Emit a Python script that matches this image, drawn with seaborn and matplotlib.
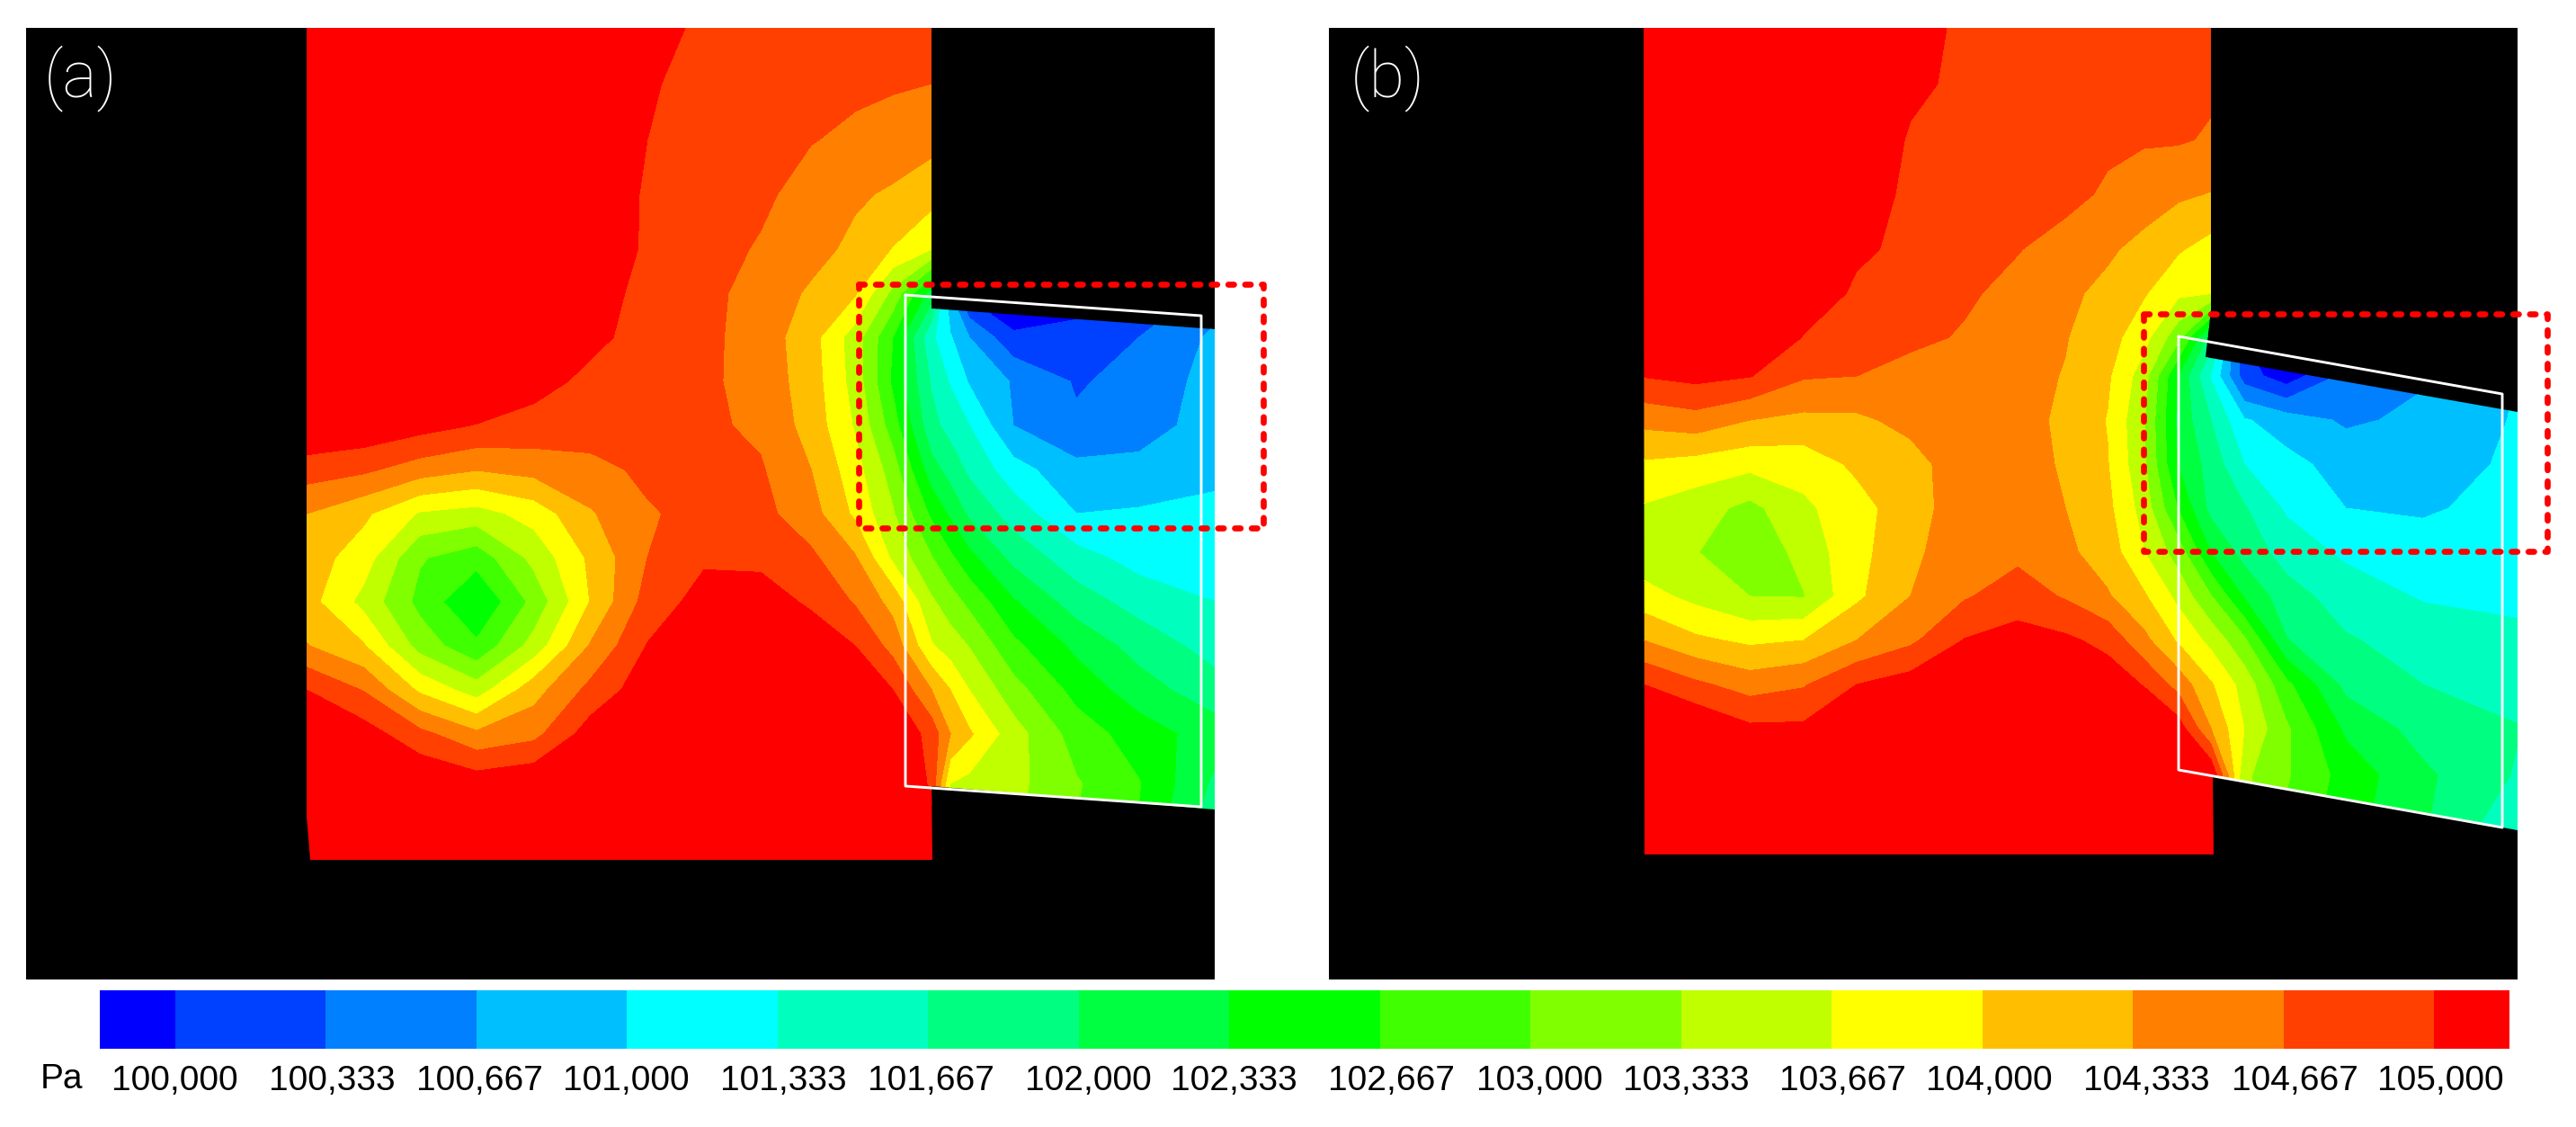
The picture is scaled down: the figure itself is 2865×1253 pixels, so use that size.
import numpy as np
import matplotlib
matplotlib.use("Agg")
import matplotlib.pyplot as plt
from matplotlib.colors import ListedColormap
from matplotlib.patches import Polygon
import seaborn as sns

W, H = 2865, 1253

tick_labels = ["100,000", "100,333", "100,667", "101,000", "101,333", "101,667",
               "102,000", "102,333", "102,667", "103,000", "103,333", "103,667",
               "104,000", "104,333", "104,667", "105,000"]
levels_pa = [100000, 100333, 100667, 101000, 101333, 101667, 102000, 102333,
             102667, 103000, 103333, 103667, 104000, 104333, 104667, 105000]
band_colors = ["#0000ff", "#0040ff", "#0080ff", "#00bfff", "#00ffff", "#00ffbf",
               "#00ff80", "#00ff40", "#00ff00", "#40ff00", "#80ff00", "#bfff00",
               "#ffff00", "#ffbf00", "#ff8000", "#ff4000", "#ff0000"]

# pressure, in steps of 1/3 kPa above 100 kPa
x_a = [341, 404, 467, 530, 594, 657, 720, 783, 846, 902, 951, 993, 1036, 1057, 1078, 1127, 1197, 1267, 1351]
y_a = [31, 93, 155, 216, 277, 326, 375, 424, 473, 522, 571, 620, 669, 718, 767, 816, 871, 956]
steps_a = [
    [16.5, 16.5, 16.5, 16.5, 16.4, 16, 15.4, 14.8, 14.6, 14.6, 14.5, 14.5, 14.4, 14.4, 14.4, 14.4, 14.4, 14.4, 14.4],
    [16.5, 16.5, 16.5, 16.5, 16.3, 15.9, 15.1, 14.7, 14.5, 14.4, 14.2, 14.1, 14, 14, 14, 14, 14, 14, 14],
    [16.5, 16.5, 16.5, 16.5, 16.2, 15.7, 15, 14.6, 14.3, 14.05, 13.8, 13.6, 13.3, 13.3, 13.3, 13.3, 13.3, 13.3, 13.3],
    [16.5, 16.5, 16.5, 16.5, 16.1, 15.6, 14.9, 14.6, 14.2, 13.6, 13.15, 12.85, 12.4, 12.4, 12.4, 12.4, 12.4, 12.4, 12.4],
    [16.5, 16.5, 16.5, 16.5, 16, 15.5, 14.9, 14.4, 13.9, 13.35, 12.75, 11.95, 11, 11, 11, 11, 11, 11, 11],
    [16.5, 16.5, 16.5, 16.5, 16, 15.3, 14.8, 14.3, 13.6, 12.85, 12.1, 9.7, 6.5, 2, -0.3, -1.4, -0.45, -0.5, 1.5],
    [16.5, 16.5, 16.5, 16.5, 16.2, 15.2, 14.7, 14.25, 13.55, 12.4, 10.5, 8, 4.2, 3.1, 2, 0.25, 0.3, 1, 2.2],
    [16.5, 16.5, 16.5, 16.3, 15.3, 14.8, 14.5, 14.2, 13.6, 12.5, 10.6, 7.8, 4.9, 3.9, 2.9, 1.9, 0.9, 1.3, 2.4],
    [16, 15.8, 15.4, 14.95, 14.7, 14.5, 14.4, 14.2, 13.8, 12.6, 10.9, 8.5, 5.3, 4.65, 4, 2, 1.15, 1.4, 2.6],
    [14.5, 14.2, 13.5, 13.05, 13.35, 13.7, 14.2, 14.3, 14.1, 13, 11.4, 9.5, 6.4, 5.6, 4.8, 3.4, 2.3, 2.4, 2.7],
    [13, 12.2, 10.9, 10.6, 11.4, 12.9, 13.9, 14.3, 14.3, 13.4, 11.8, 10.1, 7.8, 6.8, 5.8, 4.55, 3, 3.1, 3.3],
    [12.5, 11.5, 9.1, 8.4, 10.3, 12.2, 14, 14.85, 14.85, 14.2, 13.1, 10.8, 9.05, 8.2, 7.3, 5.7, 4.4, 3.6, 3.4],
    [12.4, 10.7, 8.7, 7, 9.3, 12.05, 14.4, 15.4, 15.3, 14.9, 13.9, 12.65, 10.15, 9.45, 8.75, 7.1, 5.5, 4.6, 4],
    [13.05, 12.1, 9.6, 8.2, 10.4, 13.1, 15.05, 15.8, 15.8, 15.4, 15, 13.65, 11.1, 10.5, 9.95, 8.25, 6.75, 5.6, 4.6],
    [15, 13.95, 11.8, 10.5, 12.6, 14.3, 15.6, 16.2, 16.3, 16.1, 15.6, 15, 13, 12, 11, 9.4, 7.65, 6.45, 5.4],
    [16, 15.5, 14.3, 13.2, 13.7, 15.5, 16.2, 16.5, 16.5, 16.5, 16.4, 16, 14.6, 13, 12.15, 10.45, 8.55, 7.5, 6.5],
    [16.5, 16.5, 16, 15.6, 15.9, 16.4, 16.5, 16.5, 16.5, 16.5, 16.5, 16.5, 14.8, 11, 10.7, 10.3, 9.1, 8.05, 5.8],
    [16.5, 16.5, 16.5, 16.5, 16.5, 16.5, 16.5, 16.5, 16.5, 16.5, 16.5, 16.5, 16.5, 11, 10.5, 10, 8.9, 7.8, 5],
]

x_b = [1828, 1886, 1946, 2006, 2065, 2125, 2185, 2244, 2297, 2344, 2384, 2423, 2459, 2496, 2543, 2609, 2695, 2800]
y_b = [31, 93, 155, 216, 277, 326, 375, 418, 467, 516, 565, 614, 663, 712, 761, 810, 862, 950]
steps_b = [
    [16.5, 16.5, 16.5, 16.5, 16.3, 15.4, 14.8, 14.7, 14.6, 14.5, 14.5, 14.4, 14.4, 14.4, 14.4, 14.4, 14.4, 14.4],
    [16.5, 16.5, 16.5, 16.5, 16, 15.2, 14.8, 14.6, 14.5, 14.4, 14.35, 14.25, 14.15, 14.15, 14.15, 14.15, 14.15, 14.15],
    [16.5, 16.5, 16.5, 16.5, 15.8, 14.9, 14.6, 14.5, 14.35, 14.2, 14.1, 14.1, 13.9, 13.9, 13.9, 13.9, 13.9, 13.9],
    [16.5, 16.5, 16.5, 16.5, 15.5, 14.8, 14.6, 14.4, 14.3, 13.85, 13.5, 13.15, 12.95, 12.95, 12.95, 12.95, 12.95, 12.95],
    [16.5, 16.5, 16.5, 16, 15.15, 14.8, 14.45, 14.05, 13.6, 13.15, 12.7, 12.1, 11.6, 11.6, 11.6, 11.6, 11.6, 11.6],
    [16.5, 16.5, 16.5, 15.6, 14.85, 14.5, 14.15, 13.7, 13.2, 12.75, 12.1, 11.2, 11.05, 11, 11, 11, 11, 11],
    [16.5, 16.5, 16.2, 14.95, 14.6, 14.25, 13.9, 13.5, 13.05, 12.4, 11.4, 9.3, 5.5, 0, -0.5, 0.5, 1.5, 3],
    [15.05, 15.3, 15.05, 14.1, 14, 13.6, 13.45, 13.3, 12.95, 12.15, 10.5, 6.9, 3.9, 0.5, -0.6, 1.3, 1.9, 3],
    [13.3, 13.6, 13, 12.75, 12.8, 13.3, 13.6, 13.45, 12.75, 11.95, 10.1, 6.7, 5, 3.1, 2.5, 1.85, 2.2, 3.1],
    [11.85, 11.6, 11.3, 11.4, 12.2, 12.6, 13.6, 13.5, 12.85, 12.05, 10.2, 6.9, 5.6, 4, 3.3, 2.6, 2.5, 3.2],
    [10.9, 10.45, 9.7, 10.8, 11.6, 12.6, 13.5, 13.5, 13, 12.25, 10.6, 7.9, 5.7, 5.1, 3.85, 3, 2.85, 3.4],
    [10.3, 10.05, 9.2, 10.35, 11.7, 12.7, 13.8, 13.75, 13.2, 12.55, 11.05, 9.5, 7, 5.6, 4.6, 3.8, 3.5, 3.5],
    [11.4, 10.7, 10, 9.95, 11.8, 13, 13.9, 14.5, 13.9, 13.1, 12.15, 10.7, 9.05, 6.9, 5.4, 4.55, 3.9, 3.8],
    [13, 12.2, 11.8, 12, 13, 13.8, 15.05, 15.4, 15.2, 14.7, 13.3, 11.85, 10.7, 9.2, 6.05, 5.1, 4.6, 4.2],
    [15, 14.2, 13.55, 13.9, 15, 15.5, 16, 16.3, 16, 15.6, 14.95, 13.6, 12.1, 10.6, 8.25, 5.7, 5, 4.6],
    [16.2, 16, 15.2, 15.2, 16, 16.4, 16.5, 16.5, 16.5, 16.5, 16, 15.5, 13, 11, 9.15, 6.8, 5.6, 5.05],
    [16.5, 16.5, 16.5, 16.5, 16.5, 16.5, 16.5, 16.5, 16.5, 16.5, 16.5, 16.5, 16, 10.2, 9.1, 7.6, 6.2, 4.9],
    [16.5, 16.5, 16.5, 16.5, 16.5, 16.5, 16.5, 16.5, 16.5, 16.5, 16.5, 16.5, 16.5, 10, 8.6, 7.3, 6, 3.5],
]

# outlines of the flow region and the overlays, in picture pixels
domain_a = [(341, 31), (1036, 31), (1036, 343), (1351, 366), (1351, 900), (1036, 874),
            (1037, 956), (345, 956), (340, 895), (341, 31)]
domain_b = [(1828, 31), (2459, 31), (2459, 344), (2453, 397), (2800, 458), (2800, 923),
            (2461, 862), (2462, 950), (1829, 950), (1828, 31)]
white_a = [(1007, 328), (1336, 351), (1336, 897), (1007, 874), (1007, 328)]
white_b = [(2423, 374), (2783, 438), (2783, 920), (2423, 856), (2423, 374)]
box_a = [(955, 316), (1405, 316), (1405, 587), (955, 587), (955, 316)]
box_b = [(2384, 349), (2833, 349), (2833, 613), (2384, 613), (2384, 349)]

sns.set_theme(style="white")
plt.rcParams["font.family"] = ["Liberation Sans", "DejaVu Sans"]

fig = plt.figure(figsize=(W / 100, H / 100), dpi=100, facecolor="white")


def add_panel(x0, x1, y0, y1):
    ax = fig.add_axes([x0 / W, 1 - y1 / H, (x1 - x0) / W, (y1 - y0) / H])
    ax.set_facecolor("black")
    ax.set_xlim(x0, x1)
    ax.set_ylim(y1, y0)
    ax.set_xticks([])
    ax.set_yticks([])
    for spine in ax.spines.values():
        spine.set_visible(False)
    return ax


def draw_field(ax, xs, ys, steps, domain, white, box, label, label_x):
    pressure = 100000 + np.array(steps) * 1000 / 3
    cs = ax.contourf(xs, ys, pressure, levels=levels_pa, colors=band_colors, extend="both")
    cs.set_clip_path(Polygon(domain, transform=ax.transData))
    ax.plot(*zip(*white), color="white", lw=2.1, clip_on=False)
    ax.plot(*zip(*box), color="#ff0000", lw=4.8, ls=(0, (0.95, 1.85)), dash_capstyle="round",
            clip_on=False, zorder=5)
    ax.text(label_x, 88, label, color="white", fontsize=52, fontfamily="Roboto", fontweight="light",
            va="center", ha="left")


ax_a = add_panel(29, 1351, 31, 1089)
draw_field(ax_a, x_a, y_a, steps_a, domain_a, white_a, box_a, "(a)", 49)

ax_b = add_panel(1478, 2800, 31, 1089)
draw_field(ax_b, x_b, y_b, steps_b, domain_b, white_b, box_b, "(b)", 1502)

# colour strip: the two end bands are cut to half width
bar_x0, bar_x1 = 111, 2791
bar_y0, bar_y1 = 1101, 1166
ax_bar = fig.add_axes([bar_x0 / W, 1 - bar_y1 / H, (bar_x1 - bar_x0) / W, (bar_y1 - bar_y0) / H])
band_index = np.arange(len(band_colors)).reshape(1, -1)
sns.heatmap(band_index, cmap=ListedColormap(band_colors), vmin=-0.5, vmax=16.5, cbar=False,
            xticklabels=False, yticklabels=False, ax=ax_bar)
ax_bar.set_xlim(0.5, 16.5)

label_px = [194, 369, 533, 696, 871, 1035, 1210, 1372, 1547, 1712, 1875, 2049, 2212, 2387, 2552, 2714]
band_px = (bar_x1 - bar_x0) / 16
ax_bar.set_xticks([(p - bar_x0) / band_px + 0.5 for p in label_px], labels=tick_labels)
ax_bar.tick_params(axis="x", length=0, pad=13, labelsize=28, labelcolor="black")
fig.text(68 / W, 1 - 1200 / H, "Pa", fontsize=28, ha="center", va="center", color="black")

fig.savefig("out.png", dpi=100)
